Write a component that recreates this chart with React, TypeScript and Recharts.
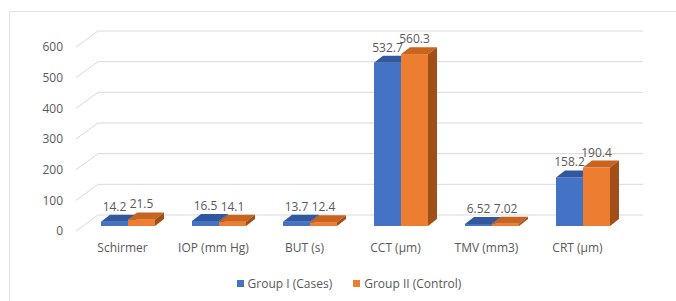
import { BarChart, Bar, XAxis, YAxis, CartesianGrid, LabelList } from "recharts";

const categories = ["Schirmer", "IOP (mm Hg)", "BUT (s)", "CCT (µm)", "TMV (mm3)", "CRT (µm)"];
const groupCases = [14.2, 16.5, 13.7, 532.7, 6.52, 158.2];
const groupControl = [21.5, 14.1, 12.4, 560.3, 7.02, 190.4];
const yTicks = [0, 100, 200, 300, 400, 500, 600];

const chartData = categories.map((name, i) => ({
  name,
  cases: groupCases[i],
  control: groupControl[i],
}));

const FONT = "'Open Sans', 'Noto Sans', sans-serif";
const TEXT = "#595959";
const DX = 9;
const DY = -7;

// bar with a fake 3d top and side face
function Bar3D(props: any) {
  const { x, y, width, height, fill, topFill, sideFill } = props;
  if (x == null || y == null) return null;
  const h = Math.max(height, 0);
  return (
    <g>
      <rect x={x} y={y} width={width} height={h} fill={fill} />
      <path
        d={`M${x},${y} L${x + DX},${y + DY} L${x + width + DX},${y + DY} L${x + width},${y} Z`}
        fill={topFill}
      />
      <path
        d={`M${x + width},${y} L${x + width + DX},${y + DY} L${x + width + DX},${y + h + DY} L${x + width},${y + h} Z`}
        fill={sideFill}
      />
    </g>
  );
}

function GridLine(props: any) {
  const { y1, index } = props;
  return (
    <polyline
      key={`g-${index}`}
      points={`76,${y1 + 5} 98,${y1 - 11} 643,${y1 - 11}`}
      fill="none"
      stroke="#d9d9d9"
      strokeWidth={1}
    />
  );
}

function Legend() {
  const item = (color: string, label: string) => (
    <div style={{ display: "flex", alignItems: "center", gap: 4 }}>
      <span style={{ width: 7, height: 7, background: color, display: "inline-block" }} />
      <span>{label}</span>
    </div>
  );
  return (
    <div
      style={{
        position: "absolute",
        top: 275,
        left: 0,
        width: 676,
        display: "flex",
        justifyContent: "center",
        gap: 21,
        fontFamily: FONT,
        fontSize: 12,
        color: TEXT,
        paddingLeft: 22,
        boxSizing: "border-box",
      }}
    >
      {item("#4472C4", "Group I (Cases)")}
      {item("#ED7D31", "Group II (Control)")}
    </div>
  );
}

export default function App() {
  return (
    <div style={{ position: "absolute", top: 0, left: 0, width: 676, height: 301, background: "#fff" }}>
      <div
        style={{
          position: "absolute",
          left: 9,
          top: 11,
          right: 0,
          bottom: 0,
          borderLeft: "1px solid #e3e3e3",
          borderTop: "1px solid #e3e3e3",
        }}
      />
      <div style={{ position: "absolute", top: 0, left: 0 }}>
        <BarChart
          width={676}
          height={301}
          data={chartData}
          margin={{ top: 42, right: 48, bottom: 45, left: 0 }}
          barCategoryGap={19}
          barGap={0}
        >
          <CartesianGrid vertical={false} horizontal={GridLine} />
          <XAxis
            dataKey="name"
            tickLine={false}
            axisLine={false}
            tickSize={0}
            tickMargin={17}
            height={30}
            tick={{ fontSize: 12, fill: TEXT, fontFamily: FONT, dx: -5 }}
            interval={0}
          />
          <YAxis
            width={82}
            domain={[0, 600]}
            ticks={yTicks}
            tickLine={false}
            axisLine={false}
            tickSize={0}
            tickMargin={19}
            tick={{ fontSize: 12, fill: TEXT, fontFamily: FONT, dy: 5 }}
          />
          <Bar
            dataKey="cases"
            fill="#4472C4"
            isAnimationActive={false}
            shape={(p: any) => <Bar3D {...p} topFill="#31589f" sideFill="#2c4f8e" />}
          >
            <LabelList
              dataKey="cases"
              position="top"
              offset={11}
              style={{ fontSize: 12, fill: TEXT, fontFamily: FONT }}
            />
          </Bar>
          <Bar
            dataKey="control"
            fill="#ED7D31"
            isAnimationActive={false}
            shape={(p: any) => <Bar3D {...p} topFill="#c9641f" sideFill="#a04f18" />}
          >
            <LabelList
              dataKey="control"
              position="top"
              offset={11}
              style={{ fontSize: 12, fill: TEXT, fontFamily: FONT }}
            />
          </Bar>
        </BarChart>
      </div>
      <Legend />
    </div>
  );
}
